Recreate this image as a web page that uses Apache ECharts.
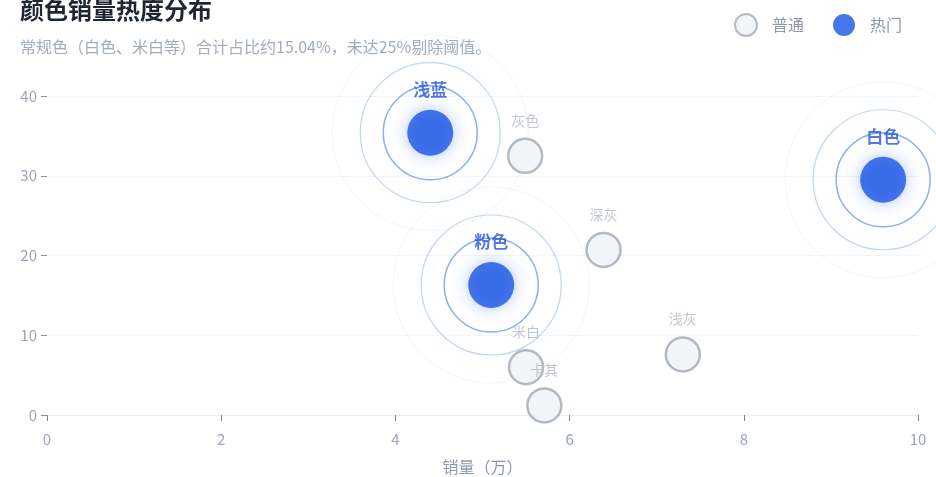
<!DOCTYPE html>
<html>
<head>
<meta charset="utf-8">
<script src="https://cdn.jsdelivr.net/npm/echarts@6/dist/echarts.min.js"></script>
<style>html,body{margin:0;padding:0;background:#fff;}#c{width:936px;height:477px;}</style>
</head>
<body>
<div id="c"></div>
<script>
// Data
const hotNames = ['浅蓝', '白色', '粉色'];
const hotSales = [4.40, 9.60, 5.10];
const hotHeat = [35.4, 29.5, 16.3];

const normalNames = ['灰色', '深灰', '浅灰', '米白', '卡其'];
const normalSales = [5.49, 6.39, 7.30, 5.50, 5.71];
const normalHeat = [32.5, 20.7, 7.6, 6.0, 1.2];

const xTicks = [0, 2, 4, 6, 8, 10];
const yTicks = [0, 10, 20, 30, 40];

const hotData = hotNames.map((n, i) => ({ name: n, value: [hotSales[i], hotHeat[i]] }));
const normalData = normalNames.map((n, i) => ({ name: n, value: [normalSales[i], normalHeat[i]] }));

const FONT = '"Noto Sans CJK SC","Noto Sans",sans-serif';
const BLUE = '#1a55e3';

function ring(size, color, width) {
  return {
    type: 'scatter', data: hotData, symbolSize: size, silent: true, z: 1,
    itemStyle: { color: 'rgba(0,0,0,0)', borderColor: color, borderWidth: width },
    label: { show: false }, tooltip: { show: false }
  };
}

const chart = echarts.init(document.getElementById('c'));
chart.setOption({
  animation: false,
  textStyle: { fontFamily: FONT },
  title: {
    text: '颜色销量热度分布',
    subtext: '常规色（白色、米白等）合计占比约15.04%，未达25%剔除阈值。',
    left: 20, top: -2, padding: 0, itemGap: 17,
    textStyle: { fontSize: 24, fontWeight: 'bold', color: '#1f2633', fontFamily: FONT },
    subtextStyle: { fontSize: 16, color: '#a3acba', fontFamily: FONT }
  },
  legend: {
    data: ['普通', '热门'],
    right: 29, top: 8,
    itemWidth: 22, itemHeight: 22, itemGap: 29,
    textStyle: { fontSize: 16, color: '#8e97a5', fontFamily: FONT, padding: [0, 0, 0, 10] }
  },
  grid: { left: 47, right: 18, top: 96, bottom: 62, outerBoundsMode: 'none' },
  xAxis: {
    type: 'value', min: xTicks[0], max: xTicks[xTicks.length - 1], interval: 2,
    name: '销量（万）', nameLocation: 'middle', nameGap: 44,
    nameTextStyle: { fontSize: 16, color: '#8e98a8', fontFamily: FONT },
    axisLine: { show: true, lineStyle: { color: '#e8edf3', width: 1 } },
    axisTick: { show: true, length: 6, lineStyle: { color: '#7d8592' } },
    axisLabel: { fontSize: 15, color: '#9aa5b6', margin: 17, fontFamily: FONT },
    splitLine: { show: false }
  },
  yAxis: {
    type: 'value', min: yTicks[0], max: yTicks[yTicks.length - 1], interval: 10,
    axisLine: { show: false },
    axisTick: { show: true, length: 6, lineStyle: { color: '#8a929e' } },
    axisLabel: { fontSize: 15, color: '#9aa5b6', margin: 10, fontFamily: FONT },
    splitLine: { show: true, lineStyle: { color: '#f1f4f8', width: 1 } }
  },
  series: [
    ring(196, 'rgba(37,99,235,0.08)', 1),
    ring(140, 'rgba(37,99,235,0.35)', 1.2),
    ring(94, 'rgba(37,99,235,0.65)', 1.5),
    {
      name: '普通', type: 'scatter', data: normalData, symbolSize: 34, z: 3,
      itemStyle: { color: '#eef2f7', borderColor: '#a2a9b4', borderWidth: 2.5 },
      label: {
        show: true, position: 'top', distance: 10, formatter: '{b}',
        fontSize: 14, color: '#b3b9c3', fontFamily: FONT
      }
    },
    {
      name: '热门', type: 'scatter', data: hotData, symbolSize: 46, z: 4,
      itemStyle: { color: BLUE, shadowBlur: 16, shadowColor: 'rgba(31,91,230,0.45)' },
      label: {
        show: true, position: 'top', distance: 12, formatter: '{b}',
        fontSize: 17, fontWeight: 'bold', color: '#2557d6', fontFamily: FONT
      }
    }
  ]
});
</script>
</body>
</html>
